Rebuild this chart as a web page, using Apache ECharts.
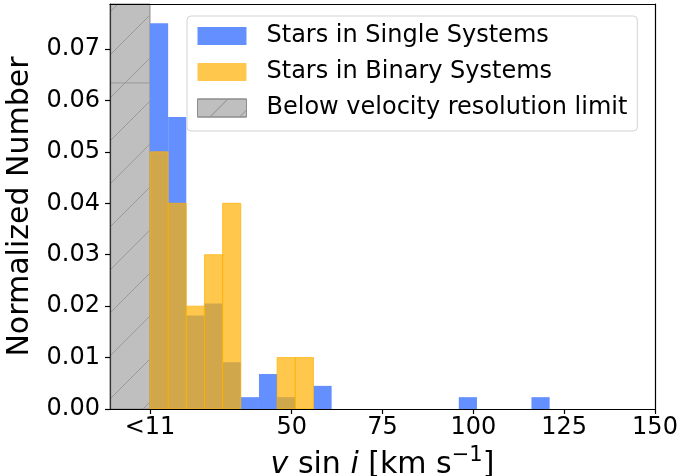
<!DOCTYPE html>
<html>
<head>
<meta charset="utf-8">
<script src="https://cdn.jsdelivr.net/npm/echarts@6/dist/echarts.min.js"></script>
<style>
  html, body { margin: 0; padding: 0; background: #fff; }
  #chart { width: 679px; height: 476px; }
</style>
</head>
<body>
<div id="chart"></div>
<script>
// histogram bins (left edge, km/s), width 5
const binLeft = [11, 16, 21, 26, 31, 36, 41, 46, 51, 56, 96, 116];
const binWidth = 5;
const singleVals = [0.0750, 0.0568, 0.0182, 0.0205, 0.0091, 0.0023, 0.0068, 0.0023, 0, 0.0045, 0.0023, 0.0023];
const binaryVals = [0.050, 0.040, 0.020, 0.030, 0.040, 0, 0, 0.010, 0.010, 0, 0, 0];

// shaded region below the resolution limit
const limitRange = [0, 11];
const limitLevel = 0.0634;

const xTicks = [11, 50, 75, 100, 125, 150];
const yTicks = [0, 0.01, 0.02, 0.03, 0.04, 0.05, 0.06, 0.07];
const xMax = 150;
const yMax = 0.07875;

const FONT = "DejaVu Sans";
const BLUE = "#648FFF";
const YELLOW = "#FFB000";
const GRAY = "#BFBFBF";
const HATCH = "#9a9a9a";

function histData(vals) {
  const out = [];
  binLeft.forEach((l, i) => {
    if (vals[i] > 0) out.push([l, l + binWidth, vals[i]]);
  });
  return out;
}

function barItem(params, api, style) {
  const p0 = api.coord([api.value(0), 0]);
  const p1 = api.coord([api.value(1), api.value(2)]);
  return {
    type: "rect",
    shape: { x: p0[0], y: p1[1], width: p1[0] - p0[0], height: p0[1] - p1[1] },
    style: style,
  };
}

// gray box + "/" hatch lines, clipped by hand
function limitItem(params, api) {
  const a = api.coord([limitRange[0], 0]);
  const b = api.coord([limitRange[1], yMax]);
  const x0 = a[0], x1 = b[0], yb = a[1], yt = b[1];
  const children = [
    {
      type: "rect",
      shape: { x: x0, y: yt, width: x1 - x0, height: yb - yt },
      style: { fill: GRAY, stroke: "#8c8c8c", lineWidth: 1 },
    },
  ];
  const step = 43;
  for (let c = yt + 8; c < yb + (x1 - x0); c += step) {
    // line: y = c - (x - x0)
    let sx = x0, sy = c;
    if (sy > yb) { sx = x0 + (sy - yb); sy = yb; }
    let ex = x1, ey = c - (x1 - x0);
    if (ey < yt) { ex = x0 + (c - yt); ey = yt; }
    if (sx >= x1 || ex <= x0) continue;
    children.push({
      type: "line",
      shape: { x1: sx, y1: sy, x2: ex, y2: ey },
      style: { stroke: HATCH, lineWidth: 1 },
    });
  }
  const ly = api.coord([0, limitLevel])[1];
  children.push({
    type: "line",
    shape: { x1: x0, y1: ly, x2: x1, y2: ly },
    style: { stroke: "#999", lineWidth: 1 },
  });
  return { type: "group", children: children };
}

const chart = echarts.init(document.getElementById("chart"), null, { renderer: "canvas" });

const hidden = {
  axisTick: { show: false },
  axisLabel: { show: false },
  splitLine: { show: false },
};

chart.setOption({
  animation: false,
  backgroundColor: "#fff",
  textStyle: { fontFamily: FONT, color: "#000" },
  grid: { left: 110, right: 24, top: 4, bottom: 67, containLabel: false, outerBoundsMode: "none" },
  legend: {
    orient: "vertical",
    left: 187,
    top: 16,
    padding: [8, 10, 11, 10],
    itemWidth: 49,
    itemHeight: 18,
    itemGap: 12,
    selectedMode: false,
    backgroundColor: "rgba(255,255,255,0.8)",
    borderColor: "#d3d3d3",
    borderWidth: 1,
    borderRadius: 4,
    textStyle: { fontFamily: FONT, fontSize: 24, color: "#000", padding: [0, 0, 0, 15], lineHeight: 24 },
    data: [
      { name: "Stars in Single Systems", icon: "rect", itemStyle: { color: BLUE } },
      { name: "Stars in Binary Systems", icon: "rect", itemStyle: { color: YELLOW, opacity: 0.7 } },
      {
        name: "Below velocity resolution limit",
        icon: "rect",
        itemStyle: {
          color: GRAY,
          borderColor: "#8c8c8c",
          borderWidth: 1,
          decal: {
            symbol: "rect",
            symbolSize: 1,
            dashArrayX: [1, 0],
            dashArrayY: [1, 20],
            rotation: -Math.PI / 4,
            color: HATCH,
          },
        },
      },
    ],
  },
  xAxis: [
    {
      type: "value",
      min: 0,
      max: xMax,
      z: 10,
      name: "{it|v}{n| sin }{it|i}{n| [km s}{sup|−1}{n|]}",
      nameLocation: "middle",
      nameGap: 20,
      nameTextStyle: {
        fontFamily: FONT,
        fontSize: 30,
        color: "#000",
        lineHeight: 40,
        rich: {
          n: { fontFamily: FONT, fontSize: 30, color: "#000", lineHeight: 40 },
          it: { fontFamily: FONT, fontSize: 30, fontStyle: "italic", color: "#000", lineHeight: 40 },
          sup: { fontFamily: FONT, fontSize: 21, color: "#000", lineHeight: 21, verticalAlign: "top" },
        },
      },
      axisLine: { show: true, onZero: false, lineStyle: { color: "#000", width: 1.2 } },
      axisTick: {
        show: true,
        length: 5,
        customValues: xTicks,
        lineStyle: { color: "#000", width: 1.2 },
      },
      axisLabel: {
        fontFamily: FONT,
        fontSize: 24,
        color: "#000",
        margin: 7,
        customValues: xTicks,
        formatter: (v) => (v === 11 ? "<11" : String(v)),
      },
      splitLine: { show: false },
    },
    Object.assign({
      type: "value",
      min: 0,
      max: xMax,
      position: "top",
      z: 10,
      axisLine: { show: true, onZero: false, lineStyle: { color: "#000", width: 1.2 } },
    }, hidden),
  ],
  yAxis: [
    {
      type: "value",
      min: 0,
      max: yMax,
      z: 10,
      name: "Normalized Number",
      nameLocation: "middle",
      nameRotate: 90,
      nameGap: 54,
      nameTextStyle: { fontFamily: FONT, fontSize: 30, color: "#000" },
      axisLine: { show: true, onZero: false, lineStyle: { color: "#333", width: 1.2 } },
      axisTick: {
        show: true,
        length: 5,
        customValues: yTicks,
        lineStyle: { color: "#000", width: 1.2 },
      },
      axisLabel: {
        fontFamily: FONT,
        fontSize: 24,
        color: "#000",
        margin: 10,
        customValues: yTicks,
        formatter: (v) => v.toFixed(2),
      },
      splitLine: { show: false },
    },
    Object.assign({
      type: "value",
      min: 0,
      max: yMax,
      position: "right",
      z: 10,
      axisLine: { show: true, onZero: false, lineStyle: { color: "#000", width: 1.2 } },
    }, hidden),
  ],
  series: [
    {
      name: "Below velocity resolution limit",
      type: "custom",
      itemStyle: { color: GRAY },
      data: [[limitRange[0], limitRange[1], yMax]],
      encode: { x: [0, 1], y: 2 },
      renderItem: limitItem,
    },
    {
      name: "Stars in Single Systems",
      type: "custom",
      itemStyle: { color: BLUE },
      data: histData(singleVals),
      encode: { x: [0, 1], y: 2 },
      renderItem: (p, api) => barItem(p, api, { fill: BLUE }),
    },
    {
      name: "Stars in Binary Systems",
      type: "custom",
      itemStyle: { color: YELLOW },
      data: histData(binaryVals),
      encode: { x: [0, 1], y: 2 },
      renderItem: (p, api) =>
        barItem(p, api, { fill: YELLOW, stroke: YELLOW, lineWidth: 1, opacity: 0.7 }),
    },
  ],
});
</script>
</body>
</html>
